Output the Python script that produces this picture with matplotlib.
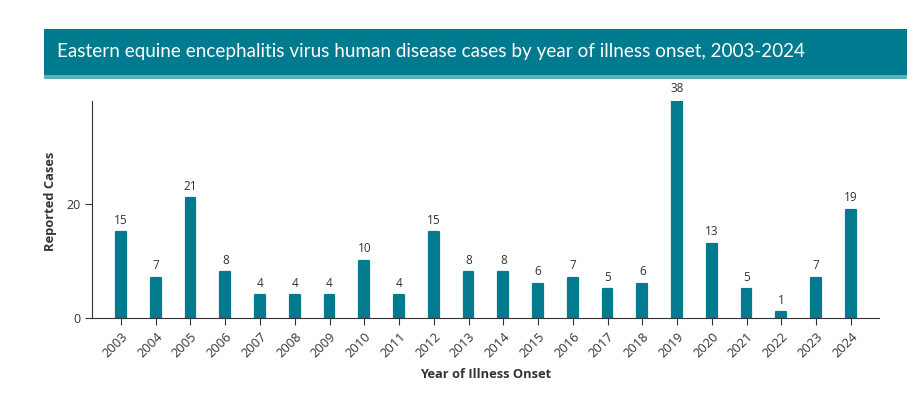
import matplotlib
matplotlib.use("Agg")
import matplotlib.pyplot as plt
from matplotlib.patches import Rectangle
from matplotlib.transforms import ScaledTranslation

years = [str(y) for y in range(2003, 2025)]
cases = [15, 7, 21, 8, 4, 4, 4, 10, 4, 15, 8, 8, 6, 7, 5, 6, 38, 13, 5, 1, 7, 19]
title = "Eastern equine encephalitis virus human disease cases by year of illness onset, 2003-2024"

bar_color = "#027B8E"
text_color = "#333333"
plt.rcParams['font.family'] = ['Open Sans', 'DejaVu Sans']

W, H = 918, 394
fig = plt.figure(figsize=(W/100, H/100), dpi=100)

# Title banner
fig.patches.append(Rectangle((44/W, 1-79/H), (907-44)/W, 5/H, transform=fig.transFigure,
                             facecolor="#5EAFBD", edgecolor="none"))
fig.patches.append(Rectangle((44/W, 1-75/H), (907-44)/W, (75-29)/H, transform=fig.transFigure,
                             facecolor="#007A8E", edgecolor="none"))
fig.text(57/W, 1-52/H, title, color="white", fontsize=13.55, va="center", ha="left",
         family=['Lato', 'DejaVu Sans'])

ax = fig.add_axes([92/W, 1-318/H, (879-92)/W, (318-101)/H])
x = list(range(len(years)))
ax.bar(x, cases, width=0.28, color=bar_color, edgecolor=bar_color,
       linewidth=1.6, joinstyle="round")
ax.set_xlim(-0.834, 21.81)
ax.set_ylim(0, 38)
for xi, v in zip(x, cases):
    ax.annotate(str(v), (xi, v), xytext=(0, 4), textcoords="offset points",
                ha="center", va="bottom", fontsize=8.5, color=text_color)
ax.set_xticks(x)
ax.set_xticklabels(years, rotation=45, ha="right", rotation_mode="anchor", fontsize=9.3, color=text_color)
shift = ScaledTranslation(5/100, 0, fig.dpi_scale_trans)
for lbl in ax.get_xticklabels():
    lbl.set_transform(lbl.get_transform() + shift)
ax.set_yticks([0, 20])
ax.tick_params(axis='y', labelsize=9, labelcolor=text_color, length=5, color="#333333")
ax.tick_params(axis='x', length=5, color="#333333")
for s in ["top", "right"]:
    ax.spines[s].set_visible(False)
for s in ["left", "bottom"]:
    ax.spines[s].set_color("#333333")
    ax.spines[s].set_linewidth(0.8)
    ax.spines[s].set_zorder(3)
ax.set_ylabel("Reported Cases", fontsize=9.3, fontweight="bold", color=text_color)
ax.yaxis.set_label_coords((57-92)/(879-92), (318-201.5)/(318-101))
ax.set_xlabel("Year of Illness Onset", fontsize=9.3, fontweight="bold", color=text_color, labelpad=6)

fig.savefig("out.png", dpi=100, facecolor="white")
